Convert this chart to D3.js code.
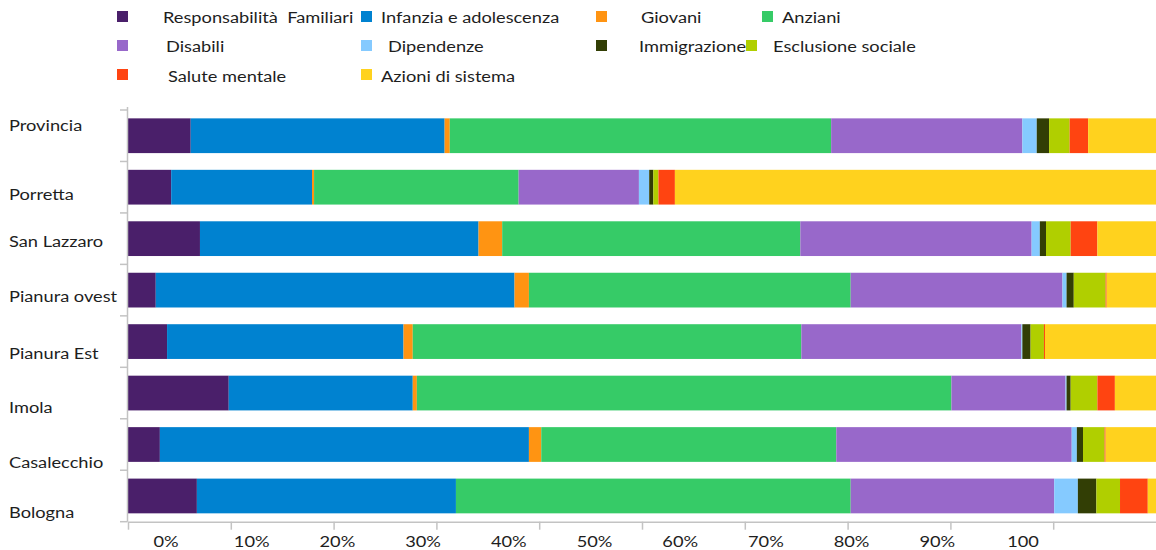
<!DOCTYPE html>
<html>
<head>
<meta charset="utf-8">
<script src="https://cdn.jsdelivr.net/npm/d3@7"></script>
<style>
  html, body { margin: 0; padding: 0; background: #fff; }
  svg { display: block; font-family: Lato, "Open Sans", sans-serif; }
  text { white-space: pre; }
</style>
</head>
<body>
<svg id="chart" width="1156" height="550"></svg>
<script>
// ---------- DATA ----------
const categories = ["Provincia", "Porretta", "San Lazzaro", "Pianura ovest", "Pianura Est", "Imola", "Casalecchio", "Bologna"];
const seriesNames = ["Responsabilità  Familiari", "Infanzia e adolescenza", "Giovani", "Anziani", "Disabili", "Dipendenze", "Immigrazione", "Esclusione sociale", "Salute mentale", "Azioni di sistema"];
const responsabilita = [6.1, 4.2, 7.0, 2.7, 3.8, 9.8, 3.1, 6.7];
const infanzia       = [24.7, 13.7, 27.1, 34.9, 23.0, 17.9, 35.9, 25.2];
const giovani        = [0.5, 0.2, 2.3, 1.4, 0.9, 0.4, 1.2, 0.0];
const anziani        = [37.1, 19.9, 29.0, 31.3, 37.8, 52.0, 28.7, 38.4];
const disabili       = [18.6, 11.7, 22.5, 20.6, 21.4, 11.1, 22.9, 19.8];
const dipendenze     = [1.4, 1.0, 0.8, 0.4, 0.1, 0.1, 0.5, 2.3];
const immigrazione   = [1.2, 0.4, 0.6, 0.7, 0.8, 0.4, 0.6, 1.8];
const esclusione     = [2.0, 0.5, 2.4, 3.1, 1.3, 2.6, 2.1, 2.3];
const saluteMentale  = [1.8, 1.6, 2.6, 0.1, 0.1, 1.7, 0.1, 2.7];
const azioni         = [6.6, 46.8, 5.7, 4.8, 10.8, 4.0, 4.9, 0.8];
const tickLabels = ["0%", "10%", "20%", "30%", "40%", "50%", "60%", "70%", "80%", "90%", "100"];

// ---------- STYLE / LAYOUT ----------
const colors = ["#4a1f6a", "#0082d0", "#ff9412", "#36cb67", "#9868ca", "#85caff", "#323e05", "#b0cf00", "#ff4411", "#ffd21e"];
const axisColor = "#c3c3c3";
const textColor = "#1e1e1e";
const stretch = 1.14;
const legendLayout = [
  {sx: 117, sy: 11, tx: 163, ty: 17},
  {sx: 361, sy: 11, tx: 381, ty: 17},
  {sx: 596, sy: 11, tx: 641, ty: 17},
  {sx: 762, sy: 11, tx: 782, ty: 17},
  {sx: 117, sy: 40, tx: 166, ty: 46},
  {sx: 361, sy: 40, tx: 388, ty: 46},
  {sx: 596, sy: 40, tx: 639, ty: 46},
  {sx: 746, sy: 40, tx: 773, ty: 46},
  {sx: 117, sy: 69, tx: 168, ty: 76},
  {sx: 361, sy: 69, tx: 381, ty: 76}
];
const labelNudge = [0, 14, 6, 6, 7, 6, 6, 0];

const seriesValues = [responsabilita, infanzia, giovani, anziani, disabili, dipendenze, immigrazione, esclusione, saluteMentale, azioni];

const svg = d3.select("#chart");

const x = d3.scaleLinear().domain([0, 100]).range([128, 1156]);
const y = d3.scaleBand().domain(categories).range([110, 521.7]).paddingInner(0.325).paddingOuter(0.1625);
const xLabel = d3.scaleLinear().domain([0, 100]).range([166, 1023]);
const yLabel = d3.scalePoint().domain(categories).range([125, 512]);

// stacked data
const rows = categories.map((c, i) => {
  const r = {cat: c};
  seriesNames.forEach((s, j) => r[s] = seriesValues[j][i]);
  return r;
});
const stack = d3.stack().keys(seriesNames)(rows);

svg.append("g").selectAll("g").data(stack).join("g")
  .attr("fill", (d, i) => colors[i])
  .selectAll("rect").data(d => d).join("rect")
  .attr("x", d => x(d[0]))
  .attr("width", d => Math.max(0, x(d[1]) - x(d[0])))
  .attr("y", d => y(d.data.cat))
  .attr("height", y.bandwidth());

// y axis line and boundary ticks
const yg = svg.append("g");
const step = y.step();
const y0 = y.range()[0];
yg.append("line").attr("x1", 127.5).attr("x2", 127.5).attr("y1", y0 - 3).attr("y2", y.range()[1])
  .attr("stroke", axisColor).attr("stroke-width", 1.5);
d3.range(categories.length + 1).forEach(k => {
  yg.append("line").attr("x1", 120).attr("x2", 127.5)
    .attr("y1", y0 + k * step).attr("y2", y0 + k * step)
    .attr("stroke", axisColor).attr("stroke-width", 1.5);
});

// x axis
const xg = svg.append("g").attr("transform", `translate(0,${y.range()[1]})`)
  .call(d3.axisBottom(x).tickValues(d3.range(0, 100, 10)).tickSize(8).tickSizeOuter(0).tickFormat(""));
xg.select(".domain").attr("stroke", axisColor).attr("stroke-width", 1.5);
xg.selectAll(".tick line").attr("stroke", axisColor).attr("stroke-width", 1.5);

// helper: horizontally stretched text
function stretchedText(g, tx, ty, str, anchor) {
  return g.append("text")
    .attr("transform", `translate(${tx},${ty}) scale(${stretch},1)`)
    .attr("dy", "0.35em")
    .attr("text-anchor", anchor || "start")
    .attr("font-size", 16)
    .attr("fill", textColor)
    .text(str);
}

// x tick labels
const tg = svg.append("g");
tickLabels.forEach((t, i) => stretchedText(tg, xLabel(i * 10), 541, t, "middle"));

// category labels
const cg = svg.append("g");
categories.forEach((c, i) => stretchedText(cg, 9, yLabel(c) + labelNudge[i], c));

// legend
const lg = svg.append("g");
seriesNames.forEach((s, i) => {
  const L = legendLayout[i];
  lg.append("rect").attr("x", L.sx).attr("y", L.sy).attr("width", 11).attr("height", 11).attr("fill", colors[i]);
  stretchedText(lg, L.tx, L.ty, s);
});
</script>
</body>
</html>
